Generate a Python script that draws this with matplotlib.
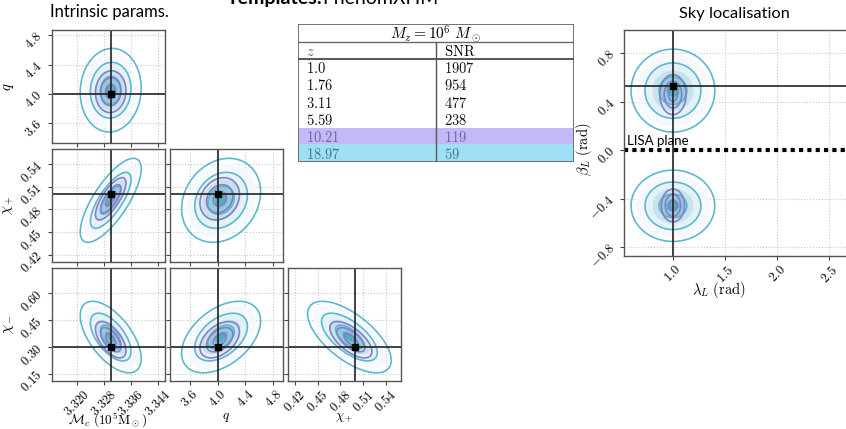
import numpy as np
import matplotlib
matplotlib.use("Agg")
import matplotlib.pyplot as plt
from matplotlib.ticker import FixedLocator, FuncFormatter

plt.rcParams["mathtext.fontset"] = "cm"
plt.rcParams["font.family"] = ["DejaVu Serif"]

W, H = 846, 429

# ---- corner plot: Mc, q, chi+, chi- ----
labels = [r"$\mathcal{M}_c\ (10^5\mathrm{M}_\odot)$", r"$q$", r"$\chi_+$", r"$\chi_-$"]
truth = [3.3302, 4.0, 0.500, 0.300]
mean_59 = [3.3301, 4.05, 0.492, 0.355]
sigma_59 = [0.0030, 0.19, 0.0185, 0.067]
mean_119 = [3.3301, 4.03, 0.494, 0.340]
sigma_119 = [0.0015, 0.095, 0.0093, 0.034]
rho = {(1, 0): 0.05, (2, 0): 0.75, (2, 1): 0.2, (3, 0): -0.6, (3, 1): 0.45, (3, 2): -0.65}
ticks = [[3.320, 3.328, 3.336, 3.344], [3.6, 4.0, 4.4, 4.8],
         [0.42, 0.45, 0.48, 0.51, 0.54], [0.15, 0.30, 0.45, 0.60]]
tick_fmt = ["{:.3f}", "{:.1f}", "{:.2f}", "{:.2f}"]
xlims = [(3.3126, 3.346), (3.312, 4.944), (0.4105, 0.5605)]
ylims = {1: (3.33, 4.878), 2: (0.4105, 0.5605), 3: (0.108, 0.746)}

# ---- sky localisation: two modes ----
sky_truth = (1.0, 0.53)
sky_mean_59 = [(1.0, 0.49), (1.0, -0.46)]
sky_sigma_59 = [(0.134, 0.114), (0.134, 0.098)]
sky_mean_119 = [(1.0, 0.457), (1.0, -0.457)]
sky_sigma_119 = [(0.042, 0.055), (0.037, 0.045)]
sky_xticks = [1.0, 1.5, 2.0, 2.5]
sky_yticks = [-0.8, -0.4, 0.0, 0.4, 0.8]

# ---- table ----
table_z = ["1.0", "1.76", "3.11", "5.59", "10.21", "18.97"]
table_snr = ["1907", "954", "477", "238", "119", "59"]

CYAN = "#5db7d1"
PURPLE = "#8b7cc8"
FILLS = ["#46a3ba", "#86c7d7", "#bde1ea", "#e1f1f6", "#f4f9fb"]
FILL_LEVELS = [0, 0.5, 1.0, 1.5, 2.0, 2.6]


def rect(l, t, w, h):
    return [l / W, 1 - (t + h) / H, w / W, h / H]


def mahal(mx, my, sx, sy, r, xl, yl, n=220):
    x = np.linspace(xl[0], xl[1], n)
    y = np.linspace(yl[0], yl[1], n)
    X, Y = np.meshgrid(x, y)
    u = (X - mx) / sx
    v = (Y - my) / sy
    return X, Y, np.sqrt((u * u - 2 * r * u * v + v * v) / (1 - r * r))


def style(ax, xt, yt, xf, yf, showx, showy):
    ax.xaxis.set_major_locator(FixedLocator(xt))
    ax.yaxis.set_major_locator(FixedLocator(yt))
    ax.xaxis.set_major_formatter(FuncFormatter(lambda v, p: "$" + xf.format(v) + "$"))
    ax.yaxis.set_major_formatter(FuncFormatter(lambda v, p: "$" + yf.format(v) + "$"))
    ax.tick_params(direction="out", length=3, width=0.8, color="#444444", labelsize=9.3,
                   pad=2, labelbottom=showx, labelleft=showy)
    for l in ax.get_xticklabels():
        l.set_rotation(45)
    for l in ax.get_yticklabels():
        l.set_rotation(45)
    ax.grid(True, linestyle=":", linewidth=0.8, color="#c8c8c8")
    ax.set_axisbelow(True)
    for s in ax.spines.values():
        s.set_color("#555555")
        s.set_linewidth(1.0)


def draw_pair(ax, i, j, xl, yl):
    r = rho[(i, j)]
    X, Y, R = mahal(mean_59[j], mean_59[i], sigma_59[j], sigma_59[i], r, xl, yl)
    ax.contourf(X, Y, R, levels=FILL_LEVELS, colors=FILLS, alpha=0.9)
    ax.contour(X, Y, R, levels=[1, 2, 3], colors=CYAN, linewidths=1.2)
    X, Y, R = mahal(mean_119[j], mean_119[i], sigma_119[j], sigma_119[i], r, xl, yl)
    ax.contour(X, Y, R, levels=[1, 2, 3], colors=PURPLE, linewidths=1.2)
    ax.axvline(truth[j], color="#222222", lw=1.2)
    ax.axhline(truth[i], color="#222222", lw=1.2)
    ax.plot(truth[j], truth[i], "s", color="black", ms=4)
    ax.set_xlim(xl)
    ax.set_ylim(yl)


fig = plt.figure(figsize=(W / 100, H / 100), dpi=100)

col_left = [51.5, 170, 288]
row_top = [29.5, 148.5, 267.5]
for i in range(1, 4):
    for j in range(i):
        ax = fig.add_axes(rect(col_left[j], row_top[i - 1], 113, 113.5))
        draw_pair(ax, i, j, xlims[j], ylims[i])
        style(ax, ticks[j], ticks[i], tick_fmt[j], tick_fmt[i], i == 3, j == 0)
        if i == 3:
            ax.set_xlabel(labels[j], fontsize=9.5)
            ax.xaxis.set_label_coords(0.5, -0.26)
        if j == 0:
            ax.set_ylabel(labels[i], fontsize=10.5)
            ax.yaxis.set_label_coords(-0.31, 0.5)

# sky axes
sky = fig.add_axes(rect(624, 30, 228, 226))
for k in range(2):
    xl, yl = (0.53, 2.72), (-0.874, 0.99)
    (mx, my), (sx, sy) = sky_mean_59[k], sky_sigma_59[k]
    X, Y, R = mahal(mx, my, sx, sy, 0.0, xl, yl, n=300)
    sky.contourf(X, Y, R, levels=FILL_LEVELS, colors=FILLS, alpha=0.9)
    sky.contour(X, Y, R, levels=[1, 2, 3], colors=CYAN, linewidths=1.2)
    (mx, my), (sx, sy) = sky_mean_119[k], sky_sigma_119[k]
    X, Y, R = mahal(mx, my, sx, sy, 0.0, xl, yl, n=300)
    sky.contour(X, Y, R, levels=[1, 2, 3], colors=PURPLE, linewidths=1.2)
sky.axvline(sky_truth[0], color="#222222", lw=1.2)
sky.axhline(sky_truth[1], color="#222222", lw=1.2)
sky.plot(*sky_truth, "s", color="black", ms=4)
sky.axhline(0.0, color="black", lw=3, linestyle=(0, (1, 1)))
sky.text(0.555, 0.045, "LISA plane", family="Lato", fontsize=9.5)
sky.set_xlim(0.53, 2.72)
sky.set_ylim(-0.874, 0.99)
style(sky, sky_xticks, sky_yticks, "{:.1f}", "{:.1f}", True, True)
sky.set_xlabel(r"$\lambda_L\ \mathrm{(rad)}$", fontsize=10.5)
sky.xaxis.set_label_coords(0.415, -0.105)
sky.set_ylabel(r"$\beta_L\ \mathrm{(rad)}$", fontsize=10.5)
sky.yaxis.set_label_coords(-0.13, 0.47)

# table
tab = fig.add_axes(rect(298, 24, 276, 138))
tab.set_xlim(0, 276)
tab.set_ylim(138, 0)
tab.axis("off")
row_h = [17.7, 17.6, 17.1, 17.1, 17.1, 17.1, 16.6, 17.7]
edges = np.concatenate([[0], np.cumsum(row_h)])
edges = edges * 138 / edges[-1]
div = 137.5
tab.fill_between([0, 276], edges[6], edges[7], color="#c4b8f7", lw=0)
tab.fill_between([0, 276], edges[7], edges[8], color="#a0e0f7", lw=0)
tab.plot([0, 276, 276, 0, 0], [0, 0, 138, 138, 0], color="#666666", lw=1.3)
tab.plot([0, 276], [edges[1], edges[1]], color="#666666", lw=1.0)
tab.plot([0, 276], [edges[2], edges[2]], color="#555555", lw=1.4)
tab.plot([div, div], [edges[1], 138], color="#555555", lw=1.0)
tab.text(138, edges[1] / 2 + 1, r"$M_z = 10^6\ M_\odot$", ha="center", va="center", fontsize=11)
tab.text(8, (edges[1] + edges[2]) / 2 + 1, r"$z$", ha="left", va="center", fontsize=10.5, color="#555555")
tab.text(div + 8, (edges[1] + edges[2]) / 2 + 1, r"$\mathrm{SNR}$", ha="left", va="center", fontsize=10.5)
text_cols = ["#111111"] * 4 + ["#6e62aa", "#3d7d92"]
for k in range(6):
    yc = (edges[k + 2] + edges[k + 3]) / 2 + 1
    tab.text(8, yc, "$" + table_z[k] + "$", ha="left", va="center", fontsize=10.5, color=text_cols[k])
    tab.text(div + 8, yc, "$" + table_snr[k] + "$", ha="left", va="center", fontsize=10.5, color=text_cols[k])

# titles
fig.text(50 / W, 1 - 17.5 / H, "Intrinsic params.", family="Lato", fontsize=12, va="baseline")
fig.text(734 / W, 1 - 18 / H, "Sky localisation", family="Lato", fontsize=11.8, va="baseline", ha="center")
fig.text(227 / W, 1 - 4 / H, "Templates:", family="Lato", fontsize=14, weight="bold", va="baseline")
fig.text(322 / W, 1 - 4 / H, "PhenomXHM", family="Lato", fontsize=14, va="baseline")

fig.savefig("out.png", dpi=100)
